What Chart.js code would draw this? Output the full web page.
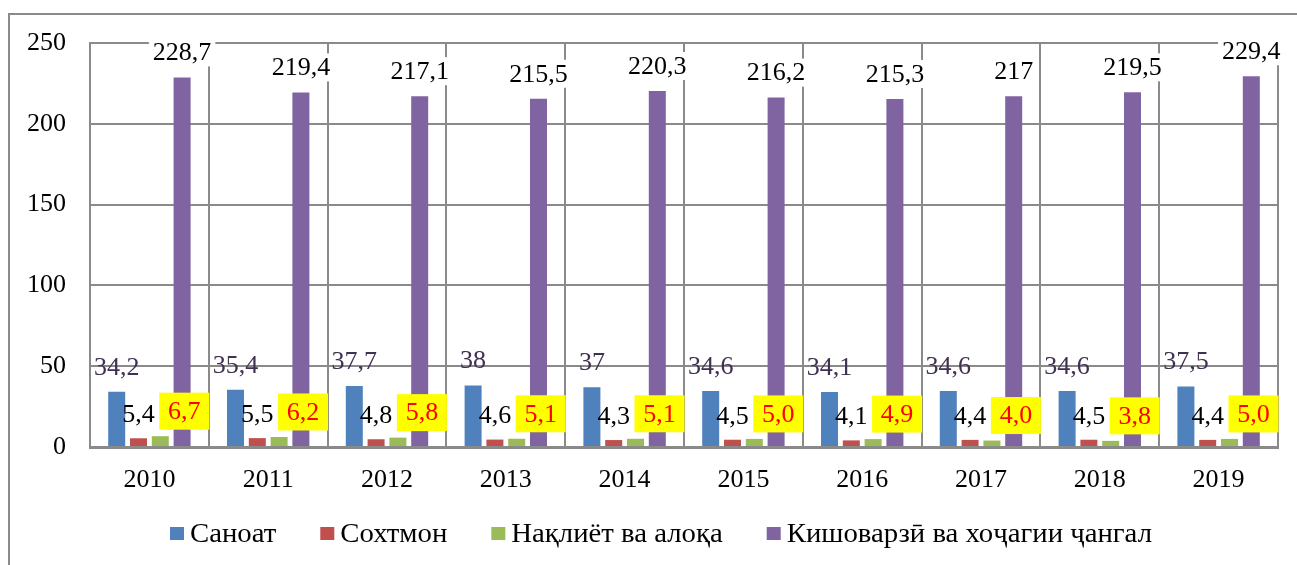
<!DOCTYPE html>
<html>
<head>
<meta charset="utf-8">
<script src="https://cdn.jsdelivr.net/npm/chart.js@4"></script>
<style>
  html, body { margin: 0; padding: 0; background: #fff; }
  #wrap { width: 1297px; height: 565px; position: relative; }
  #probe { font-family: "Liberation Serif"; position: absolute; left: -999px; }
</style>
</head>
<body>
<div id="wrap"><canvas id="myChart"></canvas></div>
<span id="probe">Саноат 2010</span>
<script>
const years = ['2010', '2011', '2012', '2013', '2014', '2015', '2016', '2017', '2018', '2019'];
const sanoat = [34.2, 35.4, 37.7, 38, 37, 34.6, 34.1, 34.6, 34.6, 37.5];
const sokhtmon = [5.4, 5.5, 4.8, 4.6, 4.3, 4.5, 4.1, 4.4, 4.5, 4.4];
const naqliyot = [6.7, 6.2, 5.8, 5.1, 5.1, 5.0, 4.9, 4.0, 3.8, 5.0];
const kishovarzi = [228.7, 219.4, 217.1, 215.5, 220.3, 216.2, 215.3, 217, 219.5, 229.4];
const yTicks = [0, 50, 100, 150, 200, 250];

const seriesNames = ['Саноат', 'Сохтмон', 'Нақлиёт ва алоқа', 'Кишоварзӣ ва хоҷагии ҷангал'];
const seriesColors = ['#4F81BD', '#C0504D', '#9BBB59', '#8064A2'];

const serif = '"Liberation Serif", "Times New Roman", Tinos, "DejaVu Serif", serif';

// how each series' value labels look (Excel-style)
const labelStyle = [
    { color: '#403152', bg: null, dx: 0, dy: -25, decimals: false },
    { color: '#000000', bg: null, dx: 0, dy: -24, decimals: false },
    { color: '#FF0000', bg: '#FFFF00', dx: 24, dy: -25, decimals: true, boxW: 50, boxH: 37 },
    { color: '#000000', bg: '#FFFFFF', dx: 0, dy: -25, decimals: false }
];

const fmt = (v, fixed) => (fixed ? v.toFixed(1) : String(v)).replace('.', ',');

const valueLabels = {
    id: 'valueLabels',
    afterDatasetsDraw(chart) {
        const ctx = chart.ctx;
        ctx.save();
        ctx.font = '26px ' + serif;
        ctx.textAlign = 'center';
        ctx.textBaseline = 'middle';
        chart.data.datasets.forEach((ds, i) => {
            const st = labelStyle[i];
            chart.getDatasetMeta(i).data.forEach((bar, j) => {
                const txt = fmt(ds.data[j], st.decimals);
                const x = bar.x + st.dx;
                const y = bar.y + st.dy;
                if (st.bg) {
                    const w = st.boxW || ctx.measureText(txt).width + 8;
                    const h = st.boxH || 28;
                    ctx.fillStyle = st.bg;
                    ctx.fillRect(x - w / 2, y - h / 2, w, h);
                }
                ctx.fillStyle = st.color;
                ctx.fillText(txt, x, y + 1);
            });
        });
        ctx.restore();
    }
};

// legend drawn by hand: the original's text is slightly stretched sideways
const wideLegend = {
    id: 'wideLegend',
    afterDraw(chart) {
        const ctx = chart.ctx;
        const stretch = 1.065;
        const baseY = 542;
        let x = 170;
        ctx.save();
        ctx.font = '27px ' + serif;
        ctx.textBaseline = 'alphabetic';
        ctx.textAlign = 'left';
        chart.data.datasets.forEach(ds => {
            ctx.fillStyle = ds.backgroundColor;
            ctx.fillRect(x, baseY - 15, 14, 13);
            x += 20;
            const w = ctx.measureText(ds.label).width * stretch;
            ctx.save();
            ctx.translate(x, baseY);
            ctx.scale(stretch, 1);
            ctx.fillStyle = '#000';
            ctx.fillText(ds.label, 0, 0);
            ctx.restore();
            x += w + 44;
        });
        ctx.restore();
    }
};

const outerFrame = {
    id: 'outerFrame',
    beforeDraw(chart) {
        const ctx = chart.ctx;
        ctx.save();
        ctx.fillStyle = '#fff';
        ctx.fillRect(0, 0, chart.width, chart.height);
        ctx.strokeStyle = '#8a8a8a';
        ctx.lineWidth = 2;
        ctx.beginPath();
        ctx.moveTo(9, chart.height + 5);
        ctx.lineTo(9, 14);
        ctx.lineTo(chart.width + 5, 14);
        ctx.stroke();
        ctx.restore();
    }
};

function draw() {
    const ctx = document.getElementById('myChart').getContext('2d');
    new Chart(ctx, {
        type: 'bar',
        data: {
            labels: years,
            datasets: [sanoat, sokhtmon, naqliyot, kishovarzi].map((d, i) => ({
                label: seriesNames[i],
                data: d,
                backgroundColor: seriesColors[i],
                categoryPercentage: 0.734,
                barPercentage: 0.78
            }))
        },
        options: {
            responsive: true,
            maintainAspectRatio: false,
            animation: false,
            layout: {
                padding: { left: 10, right: 19, top: 43, bottom: 60 }
            },
            scales: {
                x: {
                    grid: {
                        offset: true,
                        color: '#8a8a8a',
                        lineWidth: 2,
                        drawTicks: false
                    },
                    border: { color: '#8a8a8a', width: 3 },
                    ticks: {
                        color: '#000',
                        padding: 18,
                        font: { family: serif, size: 26 }
                    },
                    afterFit(scale) { scale.height = 58; }
                },
                y: {
                    min: 0,
                    max: 250,
                    afterBuildTicks(scale) { scale.ticks = yTicks.map(v => ({ value: v })); },
                    grid: {
                        color: '#8a8a8a',
                        lineWidth: 2,
                        drawTicks: false
                    },
                    border: { color: '#8a8a8a', width: 2 },
                    ticks: {
                        color: '#000',
                        padding: 24,
                        font: { family: serif, size: 26 }
                    },
                    afterFit(scale) { scale.width = 80; }
                }
            },
            plugins: {
                legend: { display: false },
                tooltip: { enabled: false }
            }
        },
        plugins: [outerFrame, valueLabels, wideLegend]
    });
}

if (document.fonts && document.fonts.load) {
    document.fonts.load('26px "Liberation Serif"', 'Саноат 2010').then(draw, draw);
} else {
    draw();
}
</script>
</body>
</html>
